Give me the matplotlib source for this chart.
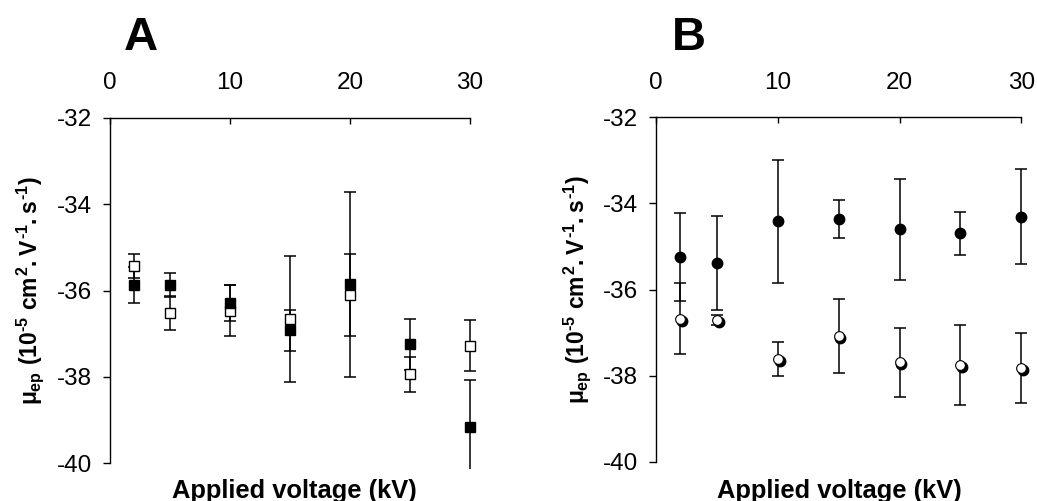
import matplotlib
matplotlib.use("Agg")
import matplotlib.pyplot as plt
import matplotlib.transforms as mtransforms

plt.rcParams["font.family"] = ["Liberation Sans", "DejaVu Sans"]
plt.rcParams["mathtext.fontset"] = "custom"
plt.rcParams["mathtext.rm"] = "Liberation Sans:bold"
plt.rcParams["mathtext.it"] = "Liberation Sans:bold"
plt.rcParams["mathtext.bf"] = "Liberation Sans:bold"

# Applied voltage (kV)
voltage = [2, 5, 10, 15, 20, 25, 30]

# Panel A: electrophoretic mobility, filled and open squares
a_filled = [-35.87, -35.87, -36.29, -36.92, -35.85, -37.24, -39.17]
a_filled_err = [0.42, 0.27, 0.41, 0.47, 2.14, 0.59, 1.10]
a_open = [-35.43, -36.52, -36.46, -36.65, -36.11, -37.94, -37.28]
a_open_err = [0.28, 0.39, 0.60, 1.46, 0.95, 0.40, 0.59]

# Panel B: electrophoretic mobility, filled and open circles
b_filled = [-35.24, -35.39, -34.42, -34.36, -34.60, -34.69, -34.31]
b_filled_err = [1.02, 1.09, 1.42, 0.45, 1.17, 0.50, 1.10]
b_open = [-36.68, -36.71, -37.62, -37.08, -37.69, -37.76, -37.82]
b_open_err = [0.82, 0.12, 0.40, 0.85, 0.80, 0.93, 0.82]

x_ticks = [0, 10, 20, 30]
y_ticks = [-40, -38, -36, -34, -32]

W, H = 1037, 501
fig = plt.figure(figsize=(W / 100, H / 100), dpi=100)

ax_a = fig.add_axes([110 / W, (H - 468.5) / H, 372 / W, 350.5 / H])
ax_b = fig.add_axes([655.7 / W, (H - 466.9) / H, 377.9 / W, 349.6 / H])

ylabel = (r"$\mu_{ep}\ (10^{\text{-}5}\ cm^{2}{.}V^{\text{-}1}"
          r"{.}s^{\text{-}1})$")


def style_axes(ax, label_x):
    ax.set_xlim(0, 31)
    ax.set_ylim(-40.12, -32)
    ax.xaxis.tick_top()
    ax.set_xticks(x_ticks)
    ax.set_yticks(y_ticks)
    ax.set_yticklabels([str(v) for v in y_ticks])
    for side in ("bottom", "right"):
        ax.spines[side].set_visible(False)
    ax.spines["top"].set_bounds(0, 30)
    ax.spines["left"].set_bounds(-40, -32)
    for side in ("top", "left"):
        ax.spines[side].set_linewidth(1.0)
    ax.tick_params(axis="x", direction="in", length=4.5, width=1.0,
                   labelsize=17.5, pad=17)
    ax.tick_params(axis="y", direction="out", length=5, width=1.0,
                   labelsize=17.5, pad=8)
    ax.set_ylabel(ylabel, fontsize=16.5)
    ax.yaxis.set_label_coords(label_x, 0.507)
    ax.patch.set_visible(False)


err_kw = dict(fmt="none", ecolor="black", elinewidth=1.1, capsize=4.2,
              capthick=1.1, zorder=2)

# Panel A
style_axes(ax_a, -0.172)
ax_a.errorbar(voltage, a_open, yerr=a_open_err, **err_kw)
ax_a.errorbar(voltage, a_filled, yerr=a_filled_err, **err_kw)
ax_a.plot(voltage, a_open, ls="none", marker="s", ms=7, mfc="white",
          mec="black", mew=1.0, zorder=3)
ax_a.plot(voltage, a_filled, ls="none", marker="s", ms=7, mfc="black",
          mec="black", mew=1.0, zorder=4)

# Panel B
style_axes(ax_b, -0.166)
ax_b.errorbar(voltage, b_open, yerr=b_open_err, **err_kw)
ax_b.errorbar(voltage, b_filled, yerr=b_filled_err, **err_kw)
shadow = ax_b.transData + mtransforms.ScaledTranslation(1.4 / 72, -1.4 / 72,
                                                        fig.dpi_scale_trans)
ax_b.plot(voltage, b_open, ls="none", marker="o", ms=7.5, mfc="black",
          mec="black", mew=1.0, zorder=3, transform=shadow)
ax_b.plot(voltage, b_open, ls="none", marker="o", ms=7, mfc="white",
          mec="black", mew=0.8, zorder=4)
ax_b.plot(voltage, b_filled, ls="none", marker="o", ms=7.5, mfc="black",
          mec="black", mew=1.0, zorder=4)

# Axis titles under each panel
for ax, xc in ((ax_a, 15.4), (ax_b, 15.05)):
    tr = mtransforms.blended_transform_factory(ax.transData, fig.transFigure)
    ax.text(xc, 3 / H, "Applied voltage (kV)", transform=tr, ha="center",
            va="baseline", fontsize=18.4, fontweight="bold", clip_on=False)

# Panel letters
fig.text(124 / W, (H - 50.5) / H, "A", fontsize=34, fontweight="bold",
         ha="left", va="baseline")
fig.text(672 / W, (H - 50.5) / H, "B", fontsize=34, fontweight="bold",
         ha="left", va="baseline")

fig.savefig("out.png", dpi=100)
